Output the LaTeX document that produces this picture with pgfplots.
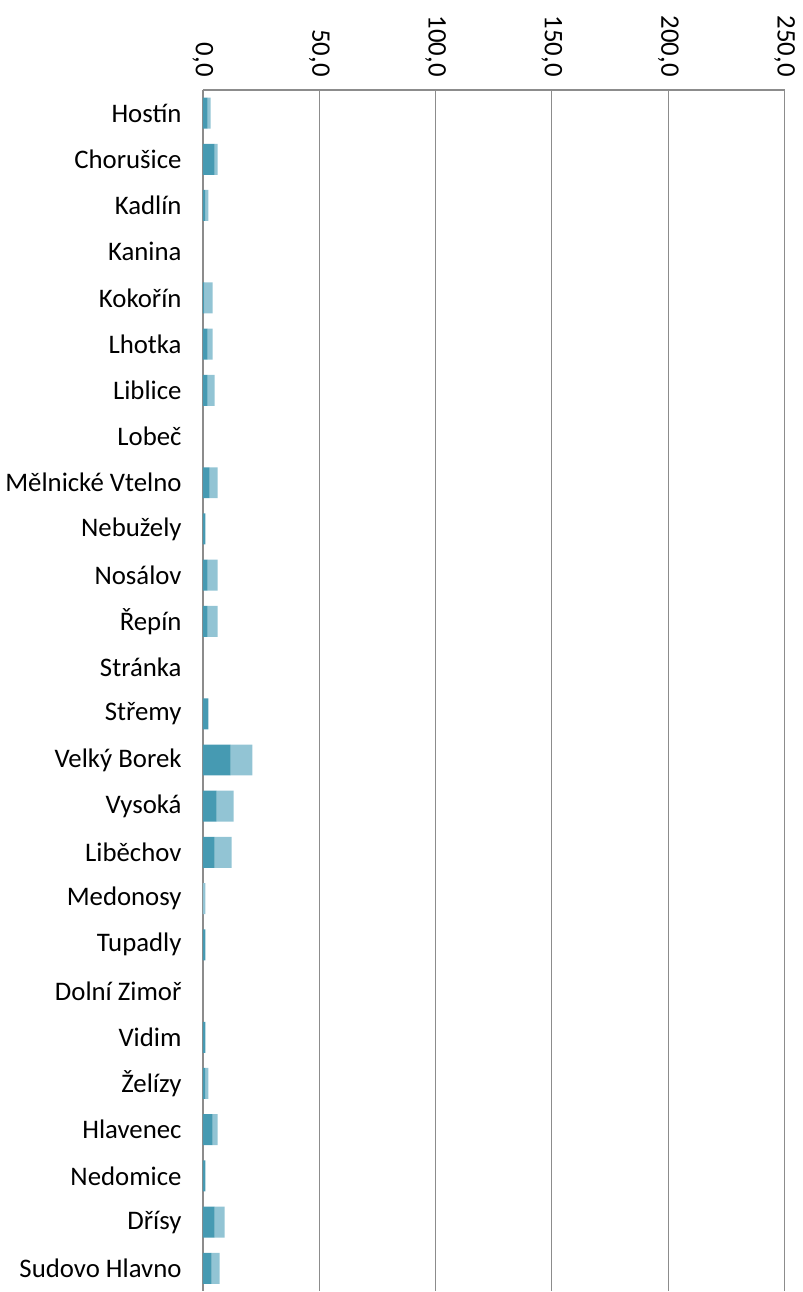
\documentclass[border=0pt]{standalone}
\usepackage{fontspec}
\setmainfont{Carlito}
\usepackage{pgfplots}
\pgfplotsset{compat=1.18}
\definecolor{barDark}{RGB}{70,154,178}
\definecolor{barLight}{RGB}{146,196,212}
\definecolor{gridGray}{RGB}{140,140,140}

\begin{document}
\begin{tikzpicture}
\begin{axis}[
    at={(0,0)}, anchor=south west,
    scale only axis,
    width=291pt, height=601pt,
    xbar stacked, bar width=15.5pt,
    xmin=0, xmax=250, ymin=-0.5, ymax=25.5,
    y dir=reverse,
    xtick={0,50,...,250},
    ytick={0,...,25},
    yticklabels={Hostín, Chorušice, Kadlín, Kanina, Kokořín, Lhotka, Liblice, Lobeč,
        Mělnické Vtelno, Nebužely, Nosálov, Řepín, Stránka, Střemy, Velký Borek,
        Vysoká, Liběchov, Medonosy, Tupadly, Dolní Zimoř, Vidim, Želízy, Hlavenec,
        Nedomice, Dřísy, Sudovo Hlavno},
    axis x line*=top, axis y line*=left,
    axis line style={draw=gridGray, line width=0.6pt, -},
    xmajorgrids, grid style={draw=gridGray, line width=0.5pt},
    major tick length=0pt,
    ticklabel style={font=\fontsize{13.4}{15}\selectfont},
    xticklabel style={rotate=-90, anchor=east, inner sep=0pt},
    xticklabel shift=6.5pt,
    yticklabel style={anchor=east, inner sep=0pt, xshift=-10.5pt},
    /pgf/number format/.cd, fixed, fixed zerofill, precision=1, use comma,
    assume math mode=true,
]
% dark share
\addplot[fill=barDark, draw=none] coordinates {
    (2.0,0) (5.0,1) (1.0,2) (0,3) (0.6,4) (2.0,5) (2.0,6) (0,7)
    (2.9,8) (1.1,9) (2.0,10) (2.0,11) (0,12) (2.4,13) (11.9,14)
    (5.9,15) (5.0,16) (0,17) (1.1,18) (0,19) (1.1,20) (1.0,21) (4.2,22)
    (1.1,23) (5.0,24) (3.7,25)};
% light share
\addplot[fill=barLight, draw=none] coordinates {
    (1.3,0) (1.3,1) (1.4,2) (0,3) (3.6,4) (2.2,5) (3.0,6) (0,7)
    (3.4,8) (0,9) (4.3,10) (4.3,11) (0,12) (0,13) (9.4,14)
    (7.3,15) (7.3,16) (1.1,17) (0,18) (0,19) (0,20) (1.4,21) (2.1,22)
    (0,23) (4.3,24) (3.5,25)};
\end{axis}
\path (-101.5pt,0) rectangle (300pt,646pt);
\end{tikzpicture}
\end{document}
